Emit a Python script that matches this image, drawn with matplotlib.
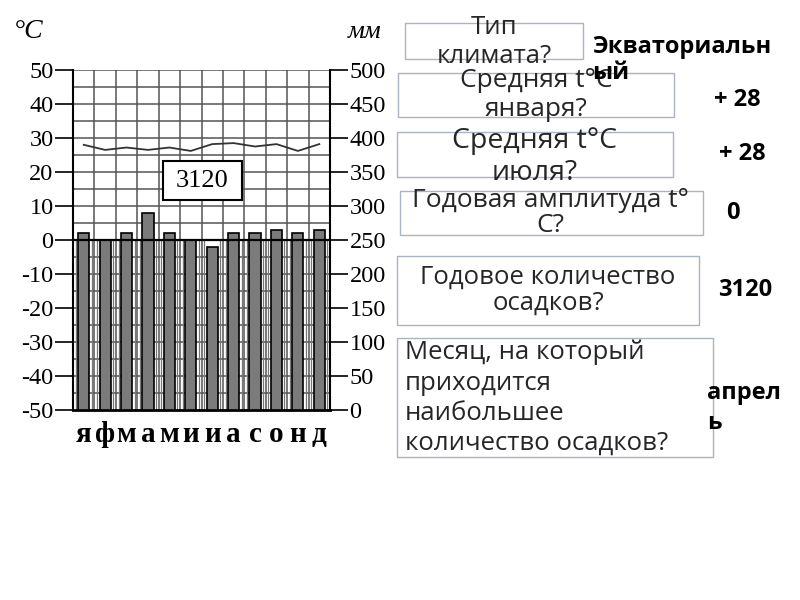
import numpy as np
import matplotlib.pyplot as plt
from matplotlib.patches import Rectangle

months = ['я', 'ф', 'м', 'а', 'м', 'и', 'и', 'а', 'с', 'о', 'н', 'д']
temperature = [28.0, 26.5, 27.2, 26.5, 27.2, 26.2, 28.2, 28.5, 27.5, 28.2, 26.2, 28.2]
precipitation = [260, 250, 260, 290, 260, 250, 240, 260, 260, 265, 260, 265]
total_label = "3120"

questions = ["Тип\nклимата?",
             "Средняя t°C\nянваря?",
             "Средняя t°C\nиюля?",
             "Годовая амплитуда t°\nС?",
             "Годовое количество\nосадков?",
             "Месяц, на который\nприходится\nнаибольшее\nколичество осадков?"]
answers = ["Экваториальн\nый", "+ 28", "+ 28", "0", "3120", "апрел\nь"]

W, H = 800, 600


def fx(x):
    return x / W


def fy(y):
    return 1 - y / H


plt.rcParams['font.family'] = 'Liberation Serif'
plt.rcParams['axes.unicode_minus'] = False

fig = plt.figure(figsize=(8, 6), dpi=100)
ax = fig.add_axes([fx(73), fy(410), fx(330) - fx(73), fy(70) - fy(410)])
ax2 = ax.twinx()

x = np.arange(len(months))

# grid on the temperature axes
ax.hlines(np.arange(-45, 55, 5), -0.5, 11.5, color='#555555', lw=1.1, zorder=1)
bounds = np.arange(-0.5, 12, 1)
ax.vlines(bounds, -50, 50, color='#555555', lw=1.1, zorder=1)
# denser vertical lines below 0
minor = np.concatenate([bounds[1:] - 0.125, bounds[:-1] + 0.125])
ax.vlines(minor, -50, 0, color='#777777', lw=0.9, zorder=1)

# precipitation bars
ax2.bar(x, precipitation, width=0.52, color='#7b7b7b', edgecolor='black', lw=1.2, zorder=2)
# 0 degree line and temperature curve drawn over bars
ax2.hlines(0, 0, 1, transform=ax.get_yaxis_transform(), color='black', lw=1.6, zorder=3)
ax2.plot(x, temperature, transform=ax.transData, color='#333333', lw=1.3, zorder=3)

ax.set_xlim(-0.5, 11.5)
ax.set_ylim(-50, 50)
ax2.set_ylim(0, 500)

for a in (ax, ax2):
    a.spines['top'].set_visible(False)
ax2.spines['left'].set_visible(False)
ax2.spines['bottom'].set_visible(False)
ax.spines['right'].set_visible(False)
ax.spines['left'].set_linewidth(1.5)
ax.spines['bottom'].set_linewidth(2.0)
ax2.spines['right'].set_linewidth(1.5)

ax.set_yticks(np.arange(-50, 51, 10))
ax.tick_params(axis='y', direction='out', length=13, width=1.2, pad=1, labelsize=17.5)
ax2.set_yticks(np.arange(0, 501, 50))
ax2.tick_params(axis='y', direction='out', length=13, width=1.2, pad=1, labelsize=17.5)
ax.set_xticks(x, months, fontweight='bold', fontsize=21)
ax.tick_params(axis='x', length=0, pad=8)

fig.text(fx(14), fy(32), '°C', fontsize=20, style='italic', va='center', ha='left')
fig.text(fx(348), fy(32), 'мм', fontsize=19, style='italic', va='center', ha='left')

fig.add_artist(Rectangle((fx(163), fy(200)), fx(242) - fx(163), fy(161) - fy(200),
                         transform=fig.transFigure, facecolor='white', edgecolor='black',
                         lw=1.5, zorder=5))
fig.text(fx(202), fy(181), total_label, fontsize=19, ha='center', va='center', zorder=6)

# question boxes on the right
sans = ['Open Sans', 'DejaVu Sans']
q_boxes = [(405, 23, 583, 59), (398, 73, 674, 117), (397, 132, 673, 177),
           (400, 191, 703, 235), (397, 256, 699, 325), (397, 338, 713, 457)]
q_pos = [(494, 42, 'center'), (536, 95, 'center'), (535, 157, 'center'),
         (550, 213, 'center'), (548, 290, 'center'), (405, 398, 'left')]
q_size = [18.5, 19, 20.5, 19, 18.5, 18.5]
q_spacing = [1.22, 1.2, 1.2, 1.03, 1.05, 1.28]
for q, box, pos, s, ls in zip(questions, q_boxes, q_pos, q_size, q_spacing):
    x0, y0, x1, y1 = box
    fig.add_artist(Rectangle((fx(x0), fy(y1)), fx(x1) - fx(x0), fy(y0) - fy(y1),
                             transform=fig.transFigure, facecolor='none',
                             edgecolor='#a9b4c2', lw=1.0, zorder=1))
    fig.text(fx(pos[0]), fy(pos[1]), q, fontsize=s, family=sans, color='#262626',
             ha=pos[2], va='center', multialignment=pos[2], linespacing=ls, zorder=2)

a_pos = [(592, 60, 'left', 1.15), (737, 100, 'center', 1.1), (742, 154, 'center', 1.1),
         (733, 213, 'center', 1.1), (745, 290, 'center', 1.1), (707, 408, 'left', 1.36)]
for a_txt, pos in zip(answers, a_pos):
    fig.text(fx(pos[0]), fy(pos[1]), a_txt, fontsize=17, family=sans, fontweight='bold',
             color='black', ha=pos[2], va='center', linespacing=pos[3], zorder=3)

fig.savefig('out.png', dpi=100, facecolor='white')
